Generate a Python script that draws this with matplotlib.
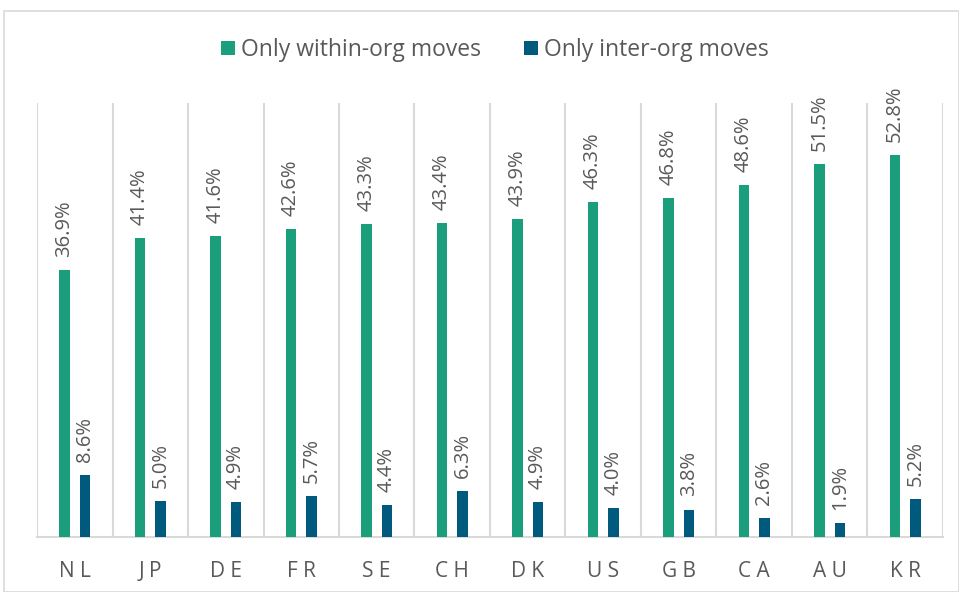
import matplotlib
matplotlib.use("Agg")
import matplotlib.pyplot as plt
import numpy as np
from matplotlib.patches import Rectangle

countries = ["NL", "JP", "DE", "FR", "SE", "CH", "DK", "US", "GB", "CA", "AU", "KR"]
within_org = [36.9, 41.4, 41.6, 42.6, 43.3, 43.4, 43.9, 46.3, 46.8, 48.6, 51.5, 52.8]
inter_org = [8.6, 5.0, 4.9, 5.7, 4.4, 6.3, 4.9, 4.0, 3.8, 2.6, 1.9, 5.2]
series_names = ["Only within-org moves", "Only inter-org moves"]

plt.rcParams['font.family'] = ['Open Sans', 'DejaVu Sans']
green = "#1A9E7C"
blue = "#005A7E"
grey_txt = "#595959"
grid_c = "#D9D9D9"

fig = plt.figure(figsize=(9.59, 5.92), dpi=100)
fig.patches.append(Rectangle((4/959, 0.0), 1 - 4/959 - 0.5/959, 1 - 11/592, transform=fig.transFigure,
                             fill=False, edgecolor=grid_c, lw=1.2))
ax = fig.add_axes([37/959, 1 - 537/592, (943 - 37)/959, (537 - 103)/592])

x = np.arange(len(countries))
w = 0.135
off = 0.135
b1 = ax.bar(x - off, within_org, w, color=green, label=series_names[0], zorder=3)
b2 = ax.bar(x + off, inter_org, w, color=blue, label=series_names[1], zorder=3)

for xi, v in zip(x, within_org):
    ax.text(xi - off, v + 1.8, f"{v:.1f}%", rotation=90, ha="center", va="bottom",
            fontsize=14.5, color=grey_txt)
for xi, v in zip(x, inter_org):
    ax.text(xi + off, v + 1.8, f"{v:.1f}%", rotation=90, ha="center", va="bottom",
            fontsize=14.5, color=grey_txt)

ax.set_xlim(-0.5, len(countries) - 0.5)
ax.set_ylim(0, 60)
ax.set_yticks([])
ax.set_xticks(x)
ax.set_xticklabels([" ".join(c) for c in countries], fontsize=15, color=grey_txt)
ax.tick_params(axis="x", length=0, pad=17)
ax.set_xticks(np.arange(-0.5, len(countries)), minor=True)
ax.tick_params(axis="x", which="minor", length=0)
ax.grid(axis="x", which="minor", color=grid_c, lw=1.5, zorder=0)
for s in ["top", "left", "right"]:
    ax.spines[s].set_visible(False)
ax.spines["bottom"].set_color(grid_c)
ax.spines["bottom"].set_linewidth(1.5)

fig.legend(handles=[b1, b2], labels=series_names, loc="center", bbox_to_anchor=(0.516, 1 - 50/592),
           ncol=2, frameon=False, fontsize=16.5, labelcolor=grey_txt, handlelength=0.6,
           handleheight=0.6, handletextpad=0.25, columnspacing=1.9)

fig.savefig("out.png", dpi=100, facecolor="white")
